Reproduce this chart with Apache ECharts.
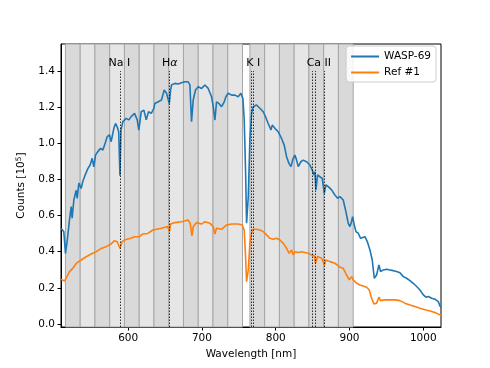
<!DOCTYPE html>
<html>
<head>
<meta charset="utf-8">
<script src="https://cdn.jsdelivr.net/npm/echarts@6/dist/echarts.min.js"></script>
<style>
  html, body { margin: 0; padding: 0; background: #fff; }
  #spec { width: 490px; height: 368px; }
</style>
</head>
<body>
<div id="spec"></div>
<script>
// WASP-69 spectrum
var blueNm = [509.2, 512.8, 515.1, 517.4, 520.5, 522.8, 524.1, 526.4, 529.6, 530.9, 533.2, 536.3, 538.6, 541.8, 545.4, 548.5, 551.3, 553.5, 555.8, 558.9,
    562.6, 565.7, 568, 571.6, 574.8, 577, 580.6, 582.9, 585.2, 587.2, 588.9, 590.3, 592.8, 597.4, 601, 604.1, 608.7, 612.3, 614.5, 617.7,
    621.3, 624.5, 627.6, 631.3, 634.9, 636.2, 640.7, 645.2, 648.9, 652, 655.8, 657.5, 658.8, 663.3, 667.8, 672.4, 676.9, 681.4, 683.7, 685.9,
    688.2, 691.3, 695, 699.5, 704, 708.5, 713, 715.3, 717.6, 719.8, 723, 726.6, 730.2, 732.5, 735.6, 740.2, 744.7, 749.2, 752.8, 755.5,
    757.3, 759.1, 760.5, 761.8, 762.8, 765, 767.3, 769.5, 774, 776.3, 778.5, 783.1, 786.2, 789.8, 793.5, 795.3, 798.9, 803.4, 807.9, 811.5,
    814.7, 817.9, 820.6, 823.7, 826, 828.3, 830.5, 834.1, 837.3, 841.8, 846.3, 849.5, 851.8, 853.1, 854.5, 856.7, 859.9, 863.1, 865.8, 868,
    871.2, 875.7, 880.2, 883.9, 887, 891.5, 895.1, 898.3, 900.6, 902.8, 904.2, 906, 908.7, 911.9, 915, 917.7, 920.9, 924.1, 927.7, 930.8,
    933.6, 936.7, 939.9, 942.1, 945.8, 950.3, 954.8, 959.3, 963.8, 968.4, 972.9, 977.4, 981.9, 986.4, 991, 995.5, 1000, 1003.6, 1006.8, 1011.3,
    1015.8, 1020.3, 1022.6, 1024];
var blueVal = [0.53, 0.51, 0.39, 0.46, 0.575, 0.65, 0.585, 0.686, 0.74, 0.695, 0.78, 0.75, 0.79, 0.825, 0.86, 0.88, 0.917, 0.87, 0.935, 0.954,
    0.972, 0.963, 0.99, 1.037, 1.046, 1.009, 1.083, 1.11, 1.09, 1.064, 0.82, 1.073, 1.12, 1.138, 1.13, 1.148, 1.166, 1.13, 1.073, 1.175,
    1.184, 1.13, 1.175, 1.166, 1.193, 1.221, 1.23, 1.24, 1.295, 1.277, 1.221, 1.295, 1.323, 1.332, 1.328, 1.335, 1.341, 1.341, 1.323, 1.12,
    1.24, 1.295, 1.313, 1.304, 1.323, 1.304, 1.258, 1.203, 1.129, 1.23, 1.221, 1.203, 1.23, 1.258, 1.277, 1.267, 1.267, 1.258, 1.277, 1.249,
    1.129, 0.853, 0.558, 0.56, 0.705, 1.02, 1.166, 1.203, 1.212, 1.221, 1.194, 1.175, 1.147, 1.11, 1.074, 1.101, 1.083, 1.064, 1.027, 0.99,
    0.926, 0.889, 0.871, 0.917, 0.935, 0.907, 0.871, 0.898, 0.907, 0.898, 0.88, 0.852, 0.825, 0.843, 0.742, 0.825, 0.815, 0.806, 0.723, 0.77,
    0.76, 0.742, 0.714, 0.696, 0.705, 0.686, 0.622, 0.557, 0.539, 0.567, 0.594, 0.557, 0.511, 0.502, 0.474, 0.465, 0.483, 0.456, 0.41, 0.354,
    0.253, 0.271, 0.327, 0.29, 0.299, 0.303, 0.299, 0.295, 0.29, 0.284, 0.262, 0.253, 0.24, 0.225, 0.207, 0.188, 0.161, 0.148, 0.152, 0.142,
    0.137, 0.124, 0.1, 0.09];

// Ref #1 spectrum
var orangeNm = [509.2, 513.7, 516, 520.5, 525, 529.6, 536.3, 543.1, 549.9, 556.7, 563.5, 570.2, 577, 581.5, 585.2, 589, 591.7, 597.1, 603.9, 608.7,
    615.4, 620, 626.7, 633.5, 636.2, 645.2, 653.4, 656, 657.5, 663.3, 672.4, 681.4, 684.1, 686.5, 688.2, 692.7, 699.5, 704, 710.8, 715.3,
    717.6, 719.8, 726.6, 733.4, 740.2, 749.2, 754.6, 757.3, 759.1, 760.5, 761.8, 762.8, 765, 767.3, 769.5, 774, 778.5, 783.1, 787.6, 792.1,
    796.6, 801.1, 805.7, 810.2, 814.7, 818.3, 821.5, 823.7, 826, 830.5, 835, 839.6, 844.1, 848.6, 852.2, 854, 856.7, 862.2, 866, 868,
    873.5, 880.2, 887, 891.5, 896, 899.7, 902.8, 905.1, 909.6, 914.1, 918.6, 923.2, 926.8, 929.9, 933.1, 936.7, 939.9, 942.1, 948, 954.8,
    961.6, 968.4, 975.1, 981.9, 988.7, 995.5, 1002.3, 1009, 1015.8, 1022.6, 1024];
var orangeVal = [0.247, 0.238, 0.253, 0.29, 0.308, 0.335, 0.354, 0.372, 0.387, 0.4, 0.418, 0.428, 0.443, 0.461, 0.455, 0.418, 0.455, 0.468, 0.474, 0.483,
    0.483, 0.498, 0.501, 0.52, 0.524, 0.53, 0.539, 0.512, 0.553, 0.561, 0.566, 0.575, 0.557, 0.487, 0.539, 0.561, 0.553, 0.566, 0.557, 0.539,
    0.498, 0.53, 0.524, 0.548, 0.553, 0.553, 0.548, 0.52, 0.373, 0.234, 0.225, 0.3, 0.446, 0.502, 0.524, 0.524, 0.52, 0.511, 0.493, 0.474,
    0.469, 0.474, 0.465, 0.446, 0.419, 0.391, 0.41, 0.382, 0.4, 0.395, 0.4, 0.395, 0.391, 0.382, 0.377, 0.336, 0.373, 0.364, 0.327, 0.354,
    0.345, 0.336, 0.314, 0.308, 0.271, 0.244, 0.262, 0.244, 0.225, 0.216, 0.21, 0.203, 0.188, 0.142, 0.111, 0.115, 0.148, 0.129, 0.133, 0.133,
    0.133, 0.129, 0.115, 0.105, 0.096, 0.087, 0.078, 0.072, 0.063, 0.05, 0.045];

// spectral bins (nm)
var binEdges = [[515, 535, 555, 575, 595, 615, 635, 655, 675, 695, 715, 735, 755],
                [765, 785, 805, 825, 845, 865, 885, 905]];
// line positions
var lineNames = ['Na I', 'H{i|α}', 'K I', 'Ca II'];
var lineLabelX = [588, 656.5, 769.5, 858.5];
var lineWaves = [589.0, 656.3, 766.5, 769.9, 849.8, 854.2, 866.2];

var xTicks = [600, 700, 800, 900, 1000];
var yTicks = [0, 0.2, 0.4, 0.6, 0.8, 1.0, 1.2, 1.4];

var yMin = -0.017, yMax = 1.55, lineTop = 1.40, labelY = 1.445;

function zip(a, b) {
    var out = [];
    for (var i = 0; i < a.length; i++) out.push([a[i], b[i]]);
    return out;
}

var bands = [];
binEdges.forEach(function (edges) {
    for (var i = 0; i < edges.length - 1; i++) {
        bands.push([
            { xAxis: edges[i], itemStyle: { color: i % 2 === 0 ? '#d9d9d9' : '#e6e6e6', borderColor: '#a6a6a6', borderWidth: 1 } },
            { xAxis: edges[i + 1] }
        ]);
    }
});

var vLines = lineWaves.map(function (w) {
    return [{ coord: [w, yMin] }, { coord: [w, lineTop] }];
});

var lineLabels = lineNames.map(function (n, i) {
    return { coord: [lineLabelX[i], labelY], value: n };
});

var font = 'DejaVu Sans';

var spec = echarts.init(document.getElementById('spec'));
var specOption = {
    animation: false,
    textStyle: { fontFamily: font },
    grid: {
        left: 61, right: 49, top: 44, bottom: 41,
        show: true, borderColor: '#000', borderWidth: 1, backgroundColor: 'transparent'
    },
    legend: {
        data: [
            { name: 'WASP-69', icon: 'rect' },
            { name: 'Ref #1', icon: 'rect' }
        ],
        orient: 'vertical',
        right: 54, top: 46,
        itemWidth: 28, itemHeight: 2, itemGap: 5,
        padding: [5, 5, 4, 5],
        backgroundColor: 'rgba(255,255,255,0.85)',
        borderColor: '#cccccc', borderWidth: 1, borderRadius: 3,
        textStyle: { fontFamily: font, fontSize: 10.5, color: '#000' }
    },
    xAxis: {
        type: 'value',
        min: 509, max: 1024,
        name: 'Wavelength [nm]',
        nameLocation: 'middle', nameGap: 22,
        nameTextStyle: { fontFamily: font, fontSize: 10.5, color: '#000' },
        splitLine: { show: false },
        axisLine: { onZero: false, lineStyle: { color: '#000', width: 1 } },
        axisTick: { show: true, length: 3.5, customValues: xTicks, lineStyle: { color: '#000' } },
        axisLabel: {
            customValues: xTicks, margin: 6, fontFamily: font, fontSize: 10.5, color: '#000',
            formatter: function (v) { return String(v); }
        }
    },
    yAxis: {
        type: 'value',
        min: yMin, max: yMax,
        name: 'Counts [10{sup|5}]',
        nameLocation: 'middle', nameGap: 33, nameRotate: 90,
        nameTextStyle: {
            fontFamily: font, fontSize: 10.5, color: '#000',
            rich: { sup: { fontSize: 7.5, verticalAlign: 'top', padding: [0, 0, 5, 0], fontFamily: font } }
        },
        splitLine: { show: false },
        axisLine: { show: true, onZero: false, lineStyle: { color: '#000', width: 1 } },
        axisTick: { show: true, length: 3.5, customValues: yTicks, lineStyle: { color: '#000' } },
        axisLabel: {
            customValues: yTicks, margin: 6, fontFamily: font, fontSize: 10.5, color: '#000',
            formatter: function (v) { return v.toFixed(1); }
        }
    },
    series: [
        {
            // bins
            type: 'line', data: [], z: 1, silent: true,
            markArea: { silent: true, data: bands }
        },
        {
            name: 'WASP-69', type: 'line', z: 3,
            data: zip(blueNm, blueVal),
            symbol: 'none', color: '#1f77b4',
            lineStyle: { width: 1.6, color: '#1f77b4' }
        },
        {
            name: 'Ref #1', type: 'line', z: 3,
            data: zip(orangeNm, orangeVal),
            symbol: 'none', color: '#ff7f0e',
            lineStyle: { width: 1.6, color: '#ff7f0e' }
        },
        {
            // line markers
            type: 'line', data: [], z: 4, silent: true,
            markLine: {
                silent: true, symbol: 'none', animation: false,
                label: { show: false },
                lineStyle: { color: '#000', type: [1.5, 1.5], width: 0.8 },
                data: vLines
            },
            markPoint: {
                silent: true, symbol: 'circle', symbolSize: 0,
                label: {
                    show: true, position: 'inside',
                    fontFamily: font, fontSize: 11, color: '#000',
                    formatter: function (p) { return p.value; },
                    rich: { i: { fontStyle: 'italic', fontFamily: font, fontSize: 11, color: '#000' } }
                },
                data: lineLabels
            }
        }
    ]
};
spec.setOption(specOption);
window.addEventListener('resize', function () {
    spec.resize();
});
</script>
</body>
</html>
